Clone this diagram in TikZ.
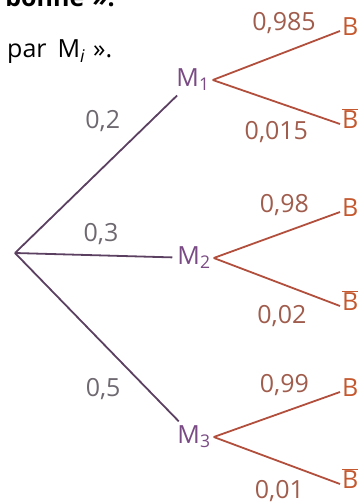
\documentclass[tikz,border=0pt]{standalone}
\usepackage{fontspec}
\setmainfont{Open Sans}
\definecolor{mviolet}{RGB}{122,74,132}
\definecolor{lviolet}{RGB}{92,64,98}
\definecolor{pgris}{RGB}{110,104,112}
\definecolor{lrouge}{RGB}{178,78,60}
\definecolor{prouge}{RGB}{160,92,76}
\definecolor{borange}{RGB}{196,88,46}
\begin{document}
\begin{tikzpicture}[x=1pt,y=-1pt,font=\fontsize{25}{30}\selectfont,
  m/.style={text=mviolet,inner sep=3pt},
  f/.style={text=borange,anchor=west,inner sep=2pt,text height=1.5ex,text depth=0pt},
  b1/.style={lviolet,line width=1.8pt,shorten >=2pt},
  b2/.style={lrouge,line width=1.8pt},
  p1/.style={text=pgris},
  p2/.style={text=prouge}]
  \useasboundingbox (0,0) rectangle (362,503);
  \clip (0,0) rectangle (362,503);
  \node[font=\fontsize{25}{30}\selectfont\bfseries,anchor=base east,inner sep=0pt] (t1) at (115,7) {bonne\hspace{8pt}».};
  \node[anchor=base west,inner sep=0pt] (t2) at (7,58) {par\hspace{11pt}M\textsubscript{\itshape i}\hspace{8pt}».};
  \coordinate (O) at (15,253);
  \node[m] (M1) at (193,80) {M\textsubscript{1}};
  \node[m] (M2) at (194,258) {M\textsubscript{2}};
  \node[m] (M3) at (194,437) {M\textsubscript{3}};
  \node[f] (B1) at (340,31) {B};
  \node[f] (C1) at (340,124) {$\overline{\mbox{B}}$};
  \node[f] (B2) at (340,212) {B};
  \node[f] (C2) at (340,306) {$\overline{\mbox{B}}$};
  \node[f] (B3) at (340,392) {B};
  \node[f] (C3) at (340,484) {$\overline{\mbox{B}}$};
  \draw[b1] (O) -- node[p1,pos=.83,xshift=-48pt]{0,2} (M1);
  \draw[b1] (O) -- node[p1,pos=.54,yshift=21pt]{0,3} (M2);
  \draw[b1] (O) -- node[p1,pos=.8,xshift=-44pt]{0,5} (M3);
  \draw[b2] (M1.east) -- node[p2,pos=.56,yshift=30pt]{0,985} (B1.west);
  \draw[b2] (M1.east) -- node[p2,pos=.5,yshift=-30pt]{0,015} (C1.west);
  \draw[b2] (M2.east) -- node[p2,pos=.56,yshift=27pt]{0,98} (B2.west);
  \draw[b2] (M2.east) -- node[p2,pos=.54,yshift=-32pt]{0,02} (C2.west);
  \draw[b2] (M3.east) -- node[p2,pos=.56,yshift=27pt]{0,99} (B3.west);
  \draw[b2] (M3.east) -- node[p2,pos=.52,yshift=-30pt]{0,01} (C3.west);
\end{tikzpicture}
\end{document}
